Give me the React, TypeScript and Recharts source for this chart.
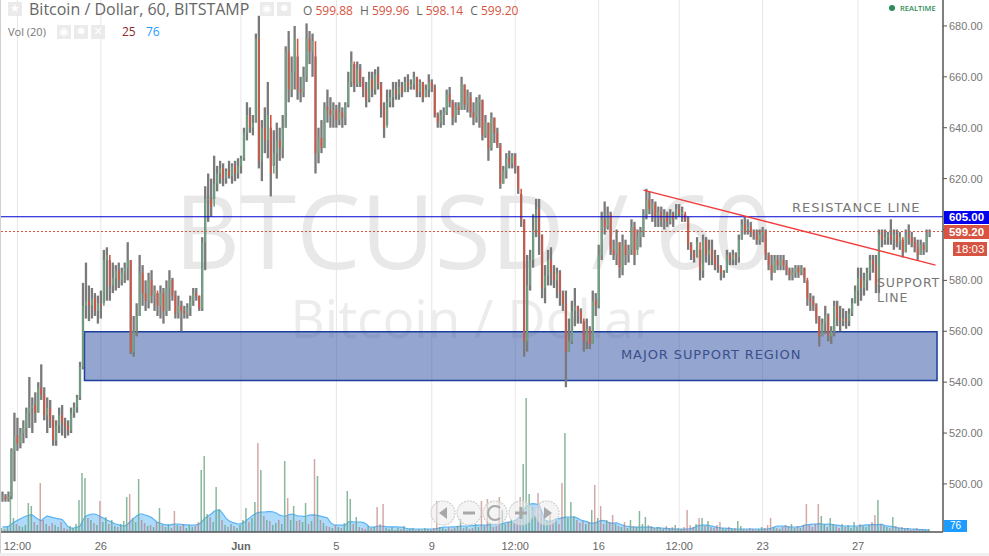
import React from 'react';
import { ComposedChart, Bar, Area, XAxis, YAxis, CartesianGrid, ReferenceLine, ReferenceArea } from 'recharts';

const highs = [
497,496,497,514,528,526,522,525,530,542,
534,536,540,547,538,534,533,527,525,530,
531,526,525,530,532,535,548,579,587,578,
577,575,574,576,592,593,588,587,586,587,
585,587,595,588,566,571,590,586,580,583,
584,578,575,578,577,580,584,581,576,574,
572,570,571,574,577,577,574,597,617,622,
620,629,625,627,626,624,627,626,627,628,
629,640,650,648,645,677,684,643,648,658,
640,639,642,640,645,672,678,668,680,668,
660,664,681,678,677,668,640,643,650,655,
652,650,649,650,648,650,662,670,665,666,
665,660,658,662,662,663,664,658,650,655,
655,658,658,659,658,660,661,659,662,660,
659,658,657,661,659,657,646,647,648,655,
656,651,650,650,660,657,655,654,650,652,
653,651,645,642,646,644,640,634,625,630,
631,630,630,625,614,604,590,592,606,612,
612,598,586,592,593,586,585,584,576,576,
565,572,577,570,569,564,565,562,576,575,
594,607,611,609,607,596,600,595,598,596,
594,604,603,600,601,608,616,615,612,611,
609,609,608,607,608,607,610,610,609,606,
605,595,592,597,592,598,597,596,596,592,
590,586,584,592,591,592,591,598,604,605,
604,603,600,600,600,601,600,591,590,590,
590,590,590,588,585,585,586,586,586,585,
580,575,574,571,566,565,570,567,562,572,
572,570,569,568,569,573,578,585,585,583,
585,590,590,590,600,600,600,599,604,600,
600,599,596,600,602,599,597,596,596,595,
600,600];

const lows = [
493,493,493,494,501,513,514,516,518,522,
520,524,528,533,525,520,522,515,515,520,
519,518,519,520,526,528,533,545,565,564,
565,566,563,565,571,572,572,575,576,577,
578,579,580,551,550,558,566,570,568,569,
571,568,566,565,563,566,568,572,565,565,
560,565,565,566,570,572,568,568,584,603,
605,612,615,618,617,618,620,618,619,620,
622,627,635,638,637,642,624,619,630,628,
613,625,620,627,628,640,650,652,655,651,
650,652,658,665,660,622,626,630,632,642,
640,640,640,641,640,641,648,656,654,656,
656,652,648,650,652,653,655,644,636,641,
648,648,651,651,652,654,654,655,655,652,
652,650,652,652,654,644,640,640,641,645,
648,641,642,645,647,647,646,644,641,642,
640,635,636,627,631,634,632,616,618,620,
624,624,622,614,601,550,552,576,585,597,
590,573,571,578,578,577,573,570,568,538,
552,555,562,563,563,552,553,553,555,566,
569,588,598,600,590,588,586,581,582,586,
587,590,586,592,593,597,604,606,603,601,
601,601,600,601,602,601,604,605,603,603,
592,588,587,589,580,581,587,586,586,584,
583,580,581,583,586,586,586,587,596,598,
598,597,596,594,594,595,588,584,580,583,
584,584,584,582,580,580,581,581,582,579,
570,568,568,563,554,558,559,556,555,558,
562,560,562,561,562,566,571,570,572,574,
576,580,583,575,575,593,594,594,594,592,
593,592,589,591,594,593,591,588,590,590,
591,597];

const closes = [
495,494,495,513,519,516,520,522,528,530,
531,528,538,535,527,530,525,517,523,527,
524,523,521,528,530,534,546,570,572,570,
573,568,571,570,588,590,578,581,584,580,
583,585,588,552,560,566,583,575,572,580,
574,576,570,575,568,577,580,574,567,570,
568,567,569,572,575,574,569,595,612,612,
609,618,622,624,620,623,621,625,622,625,
628,638,645,640,642,675,627,640,635,645,
622,630,635,632,640,670,655,662,675,655,
654,660,675,670,674,630,636,632,648,647,
645,647,643,646,644,649,658,666,657,663,
658,655,651,659,655,661,657,648,640,650,
652,655,653,656,654,658,656,657,660,654,
658,652,655,658,656,645,642,645,646,653,
650,644,648,647,657,649,652,646,644,650,
651,637,642,632,644,638,633,618,623,628,
626,629,625,616,604,556,578,588,600,608,
598,577,582,588,583,580,583,575,571,552,
556,568,570,568,565,556,561,555,572,570,
590,604,601,606,592,590,595,585,594,590,
592,601,590,597,599,606,612,608,610,605,
607,604,606,603,606,604,608,606,607,604,
594,591,589,595,584,596,590,592,589,586,
585,583,583,590,588,590,589,596,602,600,
601,599,598,596,598,599,590,586,583,588,
586,588,586,584,582,583,585,583,585,581,
573,572,570,565,558,563,566,558,560,570,
565,564,565,564,567,571,576,581,577,580,
583,588,586,578,598,596,597,598,596,598,
595,597,591,598,597,595,593,590,594,592,
598,599];

const volumes = [
100,75,125,900,350,200,150,125,175,725,
650,250,175,1225,300,200,150,225,175,125,
250,100,75,150,100,200,800,1475,1350,350,
300,225,175,775,250,375,200,300,150,125,
200,275,875,950,350,250,1325,300,225,150,
175,125,250,600,175,125,200,100,525,175,
150,200,100,175,125,150,250,1550,1900,450,
375,250,1125,575,300,175,125,200,150,100,
175,300,600,250,350,750,2225,1550,400,300,
275,175,225,300,200,1775,850,300,650,275,
300,250,725,200,275,1825,1400,300,225,150,
125,100,175,125,100,225,1025,825,200,375,
125,100,75,150,100,125,625,200,700,100,
75,125,50,100,75,150,50,75,100,50,
75,50,100,75,50,100,775,125,100,75,
125,75,100,150,325,100,125,75,100,200,
125,775,150,825,225,125,150,875,550,200,
250,300,225,300,875,1700,3350,950,625,400,
975,550,400,300,450,250,350,200,1225,2475,
350,750,400,300,225,275,200,250,550,1175,
350,650,200,300,250,425,200,150,125,250,
100,300,150,125,525,200,375,175,150,100,
125,100,75,150,100,125,175,100,75,125,
550,175,125,200,350,350,150,275,125,100,
175,250,100,75,125,75,100,275,150,75,
50,100,75,50,75,125,100,175,350,125,
100,75,125,175,125,200,100,150,100,175,
700,175,125,200,700,400,200,125,350,200,
150,100,200,125,175,100,250,125,200,150,
125,175,250,425,800,200,150,125,100,375,
150,100,125,75,100,50,75,100,50,75,
50,76];

const volumeAverage = [
130,130,140,200,250,290,330,370,400,420,
430,370,320,280,350,400,380,360,340,330,
310,230,130,100,100,120,150,300,400,430,
450,450,420,380,340,300,270,230,200,180,
160,150,200,270,340,400,450,450,420,400,
360,300,240,220,190,180,170,190,200,200,
190,180,180,170,170,180,200,270,350,400,
450,520,550,540,450,340,280,240,220,200,
210,240,300,360,420,470,490,500,500,510,
510,500,470,420,400,400,430,450,430,400,
400,390,400,420,430,420,410,390,370,350,
240,180,170,170,170,170,250,260,250,250,
250,240,200,130,120,130,150,150,140,130,
130,130,130,120,120,100,80,80,75,75,
75,75,75,75,75,75,90,110,120,125,
125,130,130,140,150,150,150,160,160,170,
170,170,170,180,190,190,190,200,210,240,
250,260,290,350,450,570,650,700,710,700,
680,500,300,260,270,300,320,340,360,370,
375,375,375,340,300,280,260,230,220,230,
270,290,280,250,220,220,230,200,170,150,
140,130,125,120,120,120,120,120,110,100,
110,100,90,90,80,80,75,75,70,70,
75,85,110,150,165,175,170,160,150,130,
110,100,100,90,90,80,75,75,75,75,
75,75,75,75,75,75,75,80,100,130,
150,150,145,140,130,125,125,130,140,170,
180,190,200,200,210,200,190,200,190,180,
170,160,150,150,150,150,150,150,160,170,
180,180,190,180,190,190,160,150,140,130,
110,100,90,85,80,75,70,65,60,60,
55,50];

const greenVolumeBars = [175, 189];
const redVolumeBars = [201];
const timeTickIndex = [5, 33, 80, 112, 144, 172, 200, 227, 255, 287];
const timeTickLabels = ['12:00', '26', 'Jun', '5', '9', '12:00', '16', '12:00', '23', '27'];
const priceTicks = [500, 520, 540, 560, 580, 600, 620, 640, 660, 680];
const trailingEmptyBars = 4;

const data: any[] = closes.map((c, i) => ({
  t: i,
  o: i > 0 ? closes[i - 1] : c,
  h: highs[i],
  l: lows[i],
  c,
  v: volumes[i],
  ma: volumeAverage[i],
}));
for (let k = 0; k < trailingEmptyBars; k++) data.push({ t: closes.length + k });

const UP = '#6ba583';
const DOWN = '#d75442';
const WICK = '#7a7a7a';
const FONT = '"Open Sans", sans-serif';
const NOTE = '"DejaVu Sans", sans-serif';
const AXFONT = '"Liberation Sans", Arial, sans-serif';

function Candle(props: any) {
  const { x, y, width, height, payload } = props;
  if (!payload || payload.h == null) return null;
  const cx = x + width / 2;
  const span = payload.h - payload.l || 1;
  const py = (p: number) => y + ((payload.h - p) / span) * height;
  const up = payload.c >= payload.o;
  const top = py(Math.max(payload.o, payload.c));
  const bot = py(Math.min(payload.o, payload.c));
  return (
    <g>
      <rect x={cx - 1.15} y={y} width={2.3} height={height} fill={WICK} />
      <rect x={cx - 0.8} y={top} width={1.6} height={Math.max(bot - top, 1)} fill={up ? UP : DOWN} />
    </g>
  );
}

function VolumeBar(props: any) {
  const { x, y, width, height, payload } = props;
  if (!payload || payload.v == null) return null;
  const up = greenVolumeBars.includes(payload.t)
    ? true
    : redVolumeBars.includes(payload.t)
    ? false
    : payload.c >= payload.o;
  return <rect x={x + width / 2 - 0.75} y={y} width={1.5} height={height} fill={up ? UP : '#b5706a'} fillOpacity={up ? 0.8 : 0.6} />;
}

function TimeTick(props: any) {
  const { x, y, payload } = props;
  const idx = timeTickIndex.indexOf(payload.value);
  const label = timeTickLabels[idx];
  return (
    <text x={x} y={y + 10} textAnchor="middle" fontFamily={AXFONT} fontSize={11} fontWeight={label === 'Jun' ? 700 : 400} fill="#666">
      {label}
    </text>
  );
}

const abs = (left: number, top: number, extra: any = {}): any => ({ position: 'absolute', left, top, whiteSpace: 'nowrap', ...extra });

function IconBox({ left, top, glyph }: { left: number; top: number; glyph: string }) {
  return (
    <div style={abs(left, top, { width: 14, height: 14, background: '#ebebeb', color: '#fff', fontSize: 11, lineHeight: '14px', textAlign: 'center', fontFamily: '"DejaVu Sans"' })}>
      {glyph}
    </div>
  );
}

function AxisTag({ top, height, left, width, bg, text, bold, size }: any) {
  return (
    <div style={abs(left, top, { width, height, background: bg, color: '#fff', fontFamily: AXFONT, fontSize: size || 11.5, fontWeight: bold ? 700 : 400, lineHeight: height + 'px', textAlign: 'center', overflow: 'hidden' })}>
      {text}
    </div>
  );
}

function NavButtons() {
  const cy = 513;
  const g = '#a8a8a8';
  const circle = (cx: number) => <circle cx={cx} cy={cy} r={12} fill="rgba(235,235,235,0.55)" stroke="#cfcfcf" strokeWidth={1.2} strokeDasharray="2 1" />;
  return (
    <svg width={989} height={556} style={abs(0, 0, { pointerEvents: 'none' })}>
      {circle(443)}
      <polygon points="447,507 447,519 439,513" fill={g} />
      {circle(469)}
      <rect x={463} y={511.5} width={12} height={3} fill={g} />
      {circle(495)}
      <path d="M500 508 A7 7 0 1 0 500 518" fill="none" stroke={g} strokeWidth={2} />
      {circle(521)}
      <rect x={515} y={511.5} width={12} height={3} fill={g} />
      <rect x={519.5} y={507} width={3} height={12} fill={g} />
      {circle(547)}
      <polygon points="544,507 544,519 552,513" fill={g} />
    </svg>
  );
}

export default function App() {
  return (
    <div style={abs(0, 0, { width: 989, height: 556, background: '#fff', overflow: 'hidden' })}>
      <div style={abs(0, 182, { width: 946, height: 96, textAlign: 'center', fontFamily: FONT, fontSize: 102, color: '#e8e8e8', lineHeight: '96px' })}>BTCUSD / 60</div>
      <div style={abs(0, 290, { width: 946, height: 56, textAlign: 'center', fontFamily: FONT, fontSize: 53, color: '#ececec', lineHeight: '56px' })}>Bitcoin / Dollar</div>

      <div style={abs(0, 0)}>
        <ComposedChart width={989} height={556} data={data} margin={{ top: 0, right: 0, bottom: 0, left: 1 }} barCategoryGap={0}>
          <CartesianGrid stroke="#e6e6e6" strokeWidth={1} syncWithTicks />
          <XAxis
            dataKey="t"
            type="category"
            ticks={timeTickIndex}
            interval={0}
            height={24}
            tick={<TimeTick />}
            tickLine={false}
            axisLine={{ stroke: '#555', strokeWidth: 1.5 }}
          />
          <YAxis
            yAxisId="p"
            orientation="right"
            width={46}
            type="number"
            domain={[481.1, 690.2]}
            allowDataOverflow
            ticks={priceTicks}
            tickFormatter={(v: number) => (v === 600 ? '' : v.toFixed(2))}
            tick={{ fontFamily: AXFONT, fontSize: 11, fill: '#777' }}
            tickLine={{ stroke: '#555' }}
            tickSize={4}
            axisLine={{ stroke: '#555', strokeWidth: 1.5 }}
          />
          <YAxis yAxisId="v" hide type="number" domain={[0, 13300]} allowDataOverflow />

          <Bar yAxisId="v" dataKey="v" isAnimationActive={false} shape={<VolumeBar />} />
          <Area yAxisId="v" dataKey="ma" type="linear" stroke="#58b4f7" strokeWidth={1.2} fill="#6cbcf8" fillOpacity={0.55} isAnimationActive={false} dot={false} activeDot={false} />
          <Bar
            yAxisId="p"
            dataKey={(d: any) => (d.h == null ? null : [d.l, d.h])}
            isAnimationActive={false}
            shape={<Candle />}
          />
          <ReferenceArea yAxisId="p" x1={28} x2={313} y1={540.6} y2={559.8} fill="#2a4ba0" fillOpacity={0.5} stroke="#1c3f9c" strokeWidth={1.5} />
          <ReferenceLine yAxisId="p" y={605} stroke="#0000d0" strokeWidth={1.2} />
          <ReferenceLine yAxisId="p" y={599.2} stroke="#d75442" strokeWidth={1} strokeDasharray="2 2" />
          <ReferenceLine yAxisId="p" segment={[{ x: 215, y: 615.5 }, { x: 313, y: 586 }]} stroke="#f23c3c" strokeWidth={1.4} />
        </ComposedChart>
      </div>

      <NavButtons />

      <div style={abs(0, 0, { width: 1, height: 553, background: '#d0d0d0' })} />
      <div style={abs(0, 553, { width: 989, height: 3, background: '#f0f0f0' })} />

      <IconBox left={8} top={2} glyph="★" />
      <div style={abs(29, 0, { fontFamily: FONT, fontSize: 16, color: '#666', lineHeight: '18px' })}>Bitcoin / Dollar, 60, BITSTAMP</div>
      <IconBox left={260} top={2} glyph="◉" />
      <IconBox left={277} top={2} glyph="✹" />
      <div style={abs(303, 3, { fontFamily: FONT, fontSize: 12, color: '#666', lineHeight: '16px' })}>
        O <span style={{ color: DOWN, marginRight: 7 }}>599.88</span>H <span style={{ color: DOWN, marginRight: 7 }}>599.96</span>L <span style={{ color: DOWN, marginRight: 7 }}>598.14</span>C <span style={{ color: DOWN }}>599.20</span>
      </div>

      <div style={abs(8, 24, { fontFamily: FONT, fontSize: 11, color: '#777', lineHeight: '16px' })}>Vol (20)</div>
      <IconBox left={57} top={25} glyph="◉" />
      <IconBox left={74} top={25} glyph="✹" />
      <IconBox left={91} top={25} glyph="✕" />
      <div style={abs(122, 24, { fontFamily: FONT, fontSize: 12, color: '#8b2c2c', lineHeight: '16px' })}>25</div>
      <div style={abs(146, 24, { fontFamily: FONT, fontSize: 12, color: '#1e9bff', lineHeight: '16px' })}>76</div>

      <div style={abs(889, 5, { width: 6, height: 6, borderRadius: 3, background: '#2e8b57' })} />
      <div style={abs(900, 3, { fontFamily: FONT, fontSize: 7.5, fontWeight: 600, color: '#2e8b57', lineHeight: '10px' })}>REALTIME</div>

      <div style={abs(792, 199, { fontFamily: NOTE, fontSize: 13, letterSpacing: 1, color: '#777', lineHeight: '18px' })}>RESISTANCE LINE</div>
      <div style={abs(877, 276, { fontFamily: NOTE, fontSize: 12.5, letterSpacing: 0.8, color: '#777', lineHeight: '14.5px', whiteSpace: 'pre' })}>{'SUPPORT\nLINE'}</div>
      <div style={abs(621, 346, { fontFamily: NOTE, fontSize: 13, letterSpacing: 0.9, color: '#3b4f8c', lineHeight: '18px' })}>MAJOR SUPPORT REGION</div>

      <AxisTag left={944} top={211} width={45} height={13} bg="#0000ee" text="605.00" bold />
      <AxisTag left={944} top={225} width={45} height={14} bg={DOWN} text="599.20" bold />
      <AxisTag left={953} top={242} width={34} height={14} bg={DOWN} text="18:03" />
      <AxisTag left={944} top={520} width={23} height={12} bg="#1e9bff" text="76" size={10} />
    </div>
  );
}
